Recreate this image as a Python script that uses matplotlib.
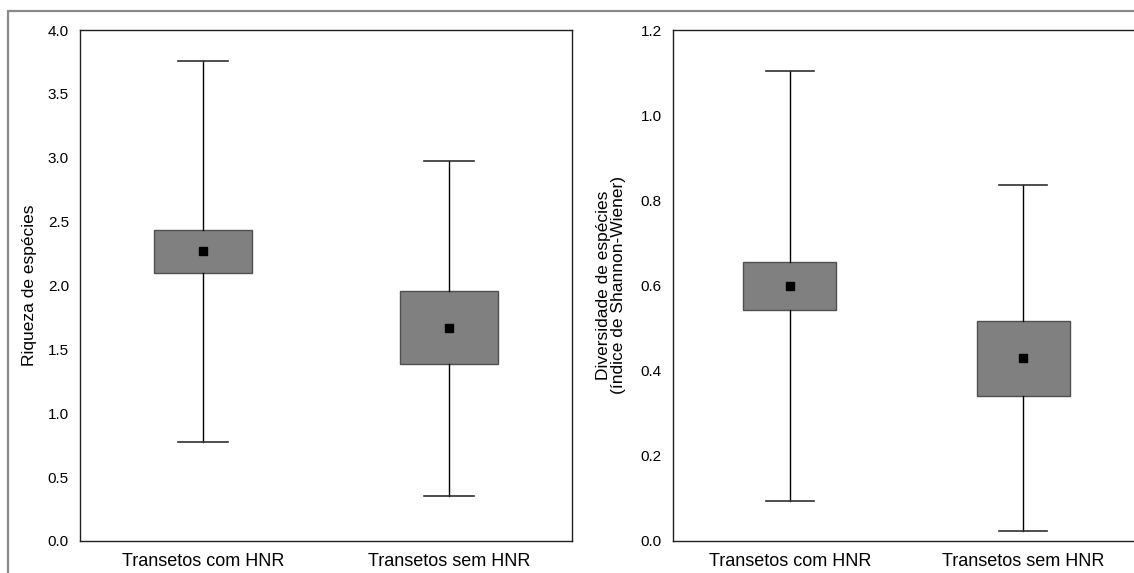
import matplotlib
matplotlib.use('Agg')
from matplotlib import pyplot as plt
from matplotlib.patches import Rectangle

plt.rcParams['font.family'] = ['Liberation Sans', 'DejaVu Sans']

grupos = ['Transetos com HNR', 'Transetos sem HNR']

# riqueza: média, média±EP (caixa) e limites dos bigodes
riq_media = [2.27, 1.667]
riq_cx_inf = [2.098, 1.386]
riq_cx_sup = [2.434, 1.957]
riq_big_inf = [0.775, 0.352]
riq_big_sup = [3.76, 2.977]

# diversidade (Shannon-Wiener)
div_media = [0.599, 0.430]
div_cx_inf = [0.542, 0.341]
div_cx_sup = [0.655, 0.517]
div_big_inf = [0.094, 0.0235]
div_big_sup = [1.104, 0.836]


def estat(media, cx_inf, cx_sup, big_inf, big_sup):
    out = []
    for i in range(len(media)):
        out.append({'med': media[i], 'mean': media[i], 'q1': cx_inf[i], 'q3': cx_sup[i],
                    'whislo': big_inf[i], 'whishi': big_sup[i], 'fliers': []})
    return out


def painel(ax, stats, ylim, yticks, ylabel):
    ax.bxp(stats, positions=[1, 2], widths=0.4, capwidths=0.205, patch_artist=True,
           showmeans=True, showfliers=False,
           boxprops=dict(facecolor='#808080', edgecolor='#505050', linewidth=1.0),
           whiskerprops=dict(color='black', linewidth=1.0),
           capprops=dict(color='#303030', linewidth=1.2),
           medianprops=dict(linewidth=0),
           meanprops=dict(marker='s', markerfacecolor='black', markeredgecolor='black', markersize=5.5))
    ax.set_xlim(0.5, 2.5)
    ax.set_ylim(*ylim)
    ax.set_yticks(yticks)
    ax.set_yticklabels(['%.1f' % v for v in yticks])
    ax.set_xticks([1, 2])
    ax.set_xticklabels(grupos, fontsize=13)
    ax.tick_params(axis='y', length=0, pad=8, labelsize=11)
    ax.tick_params(axis='x', length=0, pad=9)
    ax.set_ylabel(ylabel, fontsize=12.5, linespacing=1.0)
    for s in ax.spines.values():
        s.set_linewidth(1.0)
        s.set_color('#202020')


fig = plt.figure(figsize=(11.34, 5.73), dpi=100)
W, H = 1134, 573

ax1 = fig.add_axes([80 / W, 32 / H, 492 / W, 511 / H])
ax2 = fig.add_axes([673 / W, 32 / H, 467 / W, 511 / H])

painel(ax1, estat(riq_media, riq_cx_inf, riq_cx_sup, riq_big_inf, riq_big_sup),
       (0, 4.0), [0.0, 0.5, 1.0, 1.5, 2.0, 2.5, 3.0, 3.5, 4.0], 'Riqueza de espécies')
painel(ax2, estat(div_media, div_cx_inf, div_cx_sup, div_big_inf, div_big_sup),
       (0, 1.2), [0.0, 0.2, 0.4, 0.6, 0.8, 1.0, 1.2],
       'Diversidade de espécies\n(índice de Shannon-Wiener)')
ax1.yaxis.set_label_coords(-0.087, 0.5)
ax2.yaxis.set_label_coords(-0.10, 0.5)

# moldura cinza em volta da figura
fig.add_artist(Rectangle((8 / W, -0.1), 1.2, (H - 11) / H + 0.1, transform=fig.transFigure,
                         fill=False, edgecolor='#8a8a8a', linewidth=1.6))

fig.savefig('out.png', dpi=100)
